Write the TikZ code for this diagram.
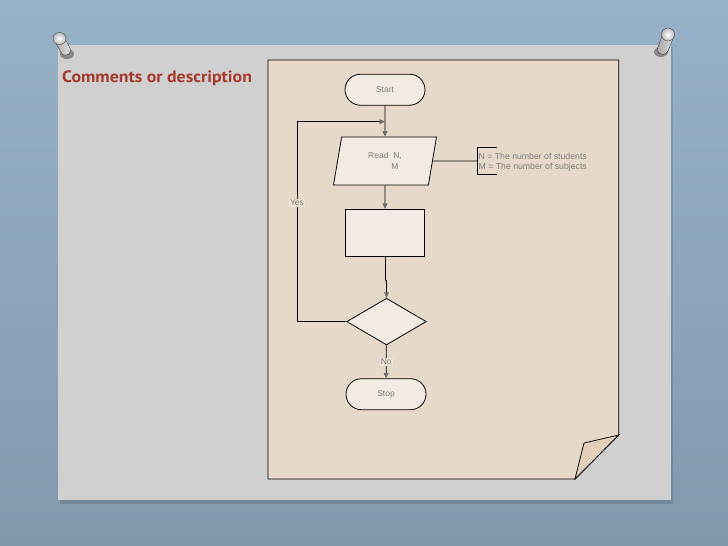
\documentclass[tikz,border=0pt]{standalone}
\usepackage{fontspec}
\setmainfont{Liberation Sans}
\newfontfamily\titlefont[FakeStretch=1.08]{PT Sans}
\usetikzlibrary{shapes.geometric,shapes.misc,arrows.meta,calc}
\definecolor{bgtop}{HTML}{97B1C8}
\definecolor{bgbot}{HTML}{8199AD}
\definecolor{panel}{HTML}{D0D0D0}
\definecolor{paper}{HTML}{E7D9C9}
\definecolor{flap}{HTML}{E3CFBA}
\definecolor{shapefill}{HTML}{F2EAE3}
\definecolor{txtgray}{HTML}{7E7E7E}
\definecolor{titlered}{HTML}{A8392B}
\definecolor{tipgray}{HTML}{6E6E6E}
\tikzset{
  base/.style={draw=black, fill=shapefill, line width=0.8pt, inner sep=0pt,
    text=txtgray, font=\fontsize{8.5}{10.5}\selectfont},
  term/.style={base, rounded rectangle, minimum width=80pt, minimum height=31pt},
  iobox/.style={base, trapezium, trapezium left angle=64, trapezium right angle=116,
    trapezium stretches body, minimum width=103pt, minimum height=48pt, align=center},
  procbox/.style={base, rectangle, minimum width=79.4pt, minimum height=47pt},
  decbox/.style={base, diamond, minimum width=79.6pt, minimum height=46.7pt},
  arr/.style={draw=black, line width=0.8pt, -{Triangle[width=5pt,length=5.5pt,color=tipgray]}},
  conn/.style={draw=black, line width=0.8pt},
  lbl/.style={fill=shapefill!60!paper, text=txtgray, inner sep=1pt, font=\fontsize{8.5}{10}\selectfont},
  note/.style={text=txtgray, inner sep=0pt, anchor=west, font=\fontsize{8.7}{10}\selectfont},
}
\begin{document}
\begin{tikzpicture}[x=1pt,y=-1pt]
\useasboundingbox (0,0) rectangle (728,546);
% background
\shade[top color=bgtop, bottom color=bgbot] (0,0) rectangle (728,546);
% panel with shadow
\fill[black, opacity=0.12] (60,47) rectangle (673,504);
\fill[panel] (58,45) rectangle (671,500);
% paper
\filldraw[fill=paper, draw=black, line width=0.9pt] (268,60) -- (618.7,60) -- (618.7,435) -- (575,479) -- (268,479) -- cycle;
\filldraw[fill=flap, draw=black, line width=0.8pt] (575,479) -- (584,443) -- (618.7,435) -- cycle;
% pins
\fill[black, opacity=0.35] (67,54) ellipse (7 and 5);
\fill[left color=gray!70, right color=gray!25, draw=gray!60!black, line width=0.3pt]
  (54,40) -- (64,37) -- (71,50) .. controls (70,56) and (62,57) .. (61,52) -- cycle;
\fill[inner color=white, outer color=gray!55, draw=gray!60!black, line width=0.3pt] (59.5,38.5) ellipse (6.5 and 6);
\fill[black, opacity=0.35] (661,52) ellipse (7 and 5);
\fill[left color=gray!70, right color=gray!25, draw=gray!60!black, line width=0.3pt]
  (662,36) -- (674,36) -- (668,51) .. controls (666,56) and (658,55) .. (657,50) -- cycle;
\fill[inner color=white, outer color=gray!55, draw=gray!60!black, line width=0.3pt] (668,34.5) ellipse (6.5 and 6.5);
% title
\node[anchor=west, text=titlered, inner sep=0pt, font=\titlefont\bfseries\fontsize{16.5}{18}\selectfont] (title) at (62,78.5) {Comments or description};
% flowchart nodes
\node[term] (start) at (385,89.7) {Start};
\node[iobox] (read) at (385,161) {Read\ \ N,\\\hspace*{20pt}M};
\node[procbox] (proc) at (385,232.8) {};
\node[decbox] (dec) at (386.5,321.6) {};
\node[term] (stop) at (386,394.2) {Stop};
\coordinate (join) at (385,121.7);
\coordinate (loopTop) at (297,121.7);
% connectors
\draw[arr] (start) -- (read);
\draw[arr] (read) -- (proc);
\draw[arr] (proc.south) -- ++(0,24) -| (dec.north);
\draw[arr] (dec) -- node[lbl]{No} (stop);
\draw[arr] (dec.west) -| (loopTop) -- (join);
\node[lbl] (yes) at (297,202.7) {Yes};
% annotation
\coordinate (brk) at (477.3,161);
\draw[conn] (read.east) -- (brk);
\draw[conn] (496.7,147.7) -- (477.3,147.7) -- (477.3,174.3) -- (496.7,174.3);
\node[note] (n1) at (478.5,156.3) {N = The number of students};
\node[note] (n2) at (478.5,167.3) {M = The number of subjects};
\end{tikzpicture}
\end{document}
